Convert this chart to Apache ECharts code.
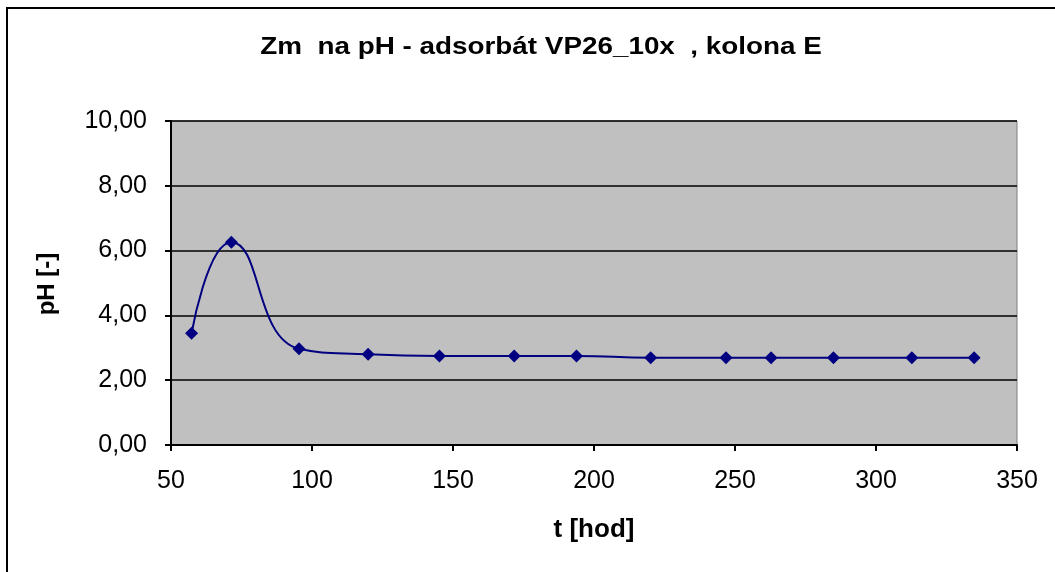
<!DOCTYPE html>
<html lang="cs">
<head>
    <meta charset="UTF-8">
    <title>Změna pH - adsorbát VP26_10x, kolona E</title>
    <style>
        html, body { margin: 0; padding: 0; background: #fff; }
        #main { width: 1055px; height: 572px; }
    </style>
</head>
<body>
<div id="main"></div>
<script src="https://cdn.jsdelivr.net/npm/echarts@6/dist/echarts.min.js"></script>
<script type="text/javascript">
    // data
    var hours = [57.3, 71.4, 95.4, 119.9, 145.2, 171.7, 193.8, 220.1, 246.8, 262.8, 284.9, 312.7, 334.8];
    var phValues = [3.45, 6.26, 2.97, 2.80, 2.75, 2.75, 2.75, 2.69, 2.69, 2.69, 2.69, 2.69, 2.69];
    var titleText = 'Zm  na pH - adsorbát VP26_10x  , kolona E';
    var xName = 't [hod]';
    var yName = 'pH [-]';

    var points = hours.map(function (h, i) {
        return [h, phValues[i]];
    });

    var font = 'Liberation Sans, Arial, sans-serif';
    var myChart = echarts.init(document.getElementById('main'));
    var option = {
        animation: false,
        backgroundColor: '#fff',
        graphic: [
            {
                // outer chart frame (only top/left visible)
                type: 'rect',
                shape: {x: 7, y: 8, width: 1200, height: 700},
                style: {fill: 'none', stroke: '#000', lineWidth: 2},
                silent: true
            },
            {
                // title, slightly stretched like the original
                type: 'text',
                x: 541, y: 47,
                scaleX: 1.16,
                style: {
                    text: titleText, fill: '#000', font: 'bold 24px ' + font,
                    align: 'center', verticalAlign: 'middle'
                }
            },
            {
                type: 'text',
                x: 47, y: 284,
                rotation: Math.PI / 2,
                style: {
                    text: yName, fill: '#000', font: 'bold 24px ' + font,
                    align: 'center', verticalAlign: 'middle'
                }
            },
            {
                type: 'text',
                x: 594, y: 530,
                style: {
                    text: xName, fill: '#000', font: 'bold 26px ' + font,
                    align: 'center', verticalAlign: 'middle'
                }
            }
        ],
        grid: {
            left: 171,
            right: 38,
            top: 121,
            bottom: 127,
            show: true,
            backgroundColor: '#c0c0c0',
            borderColor: '#808080',
            borderWidth: 1
        },
        xAxis: {
            type: 'value',
            min: 50,
            max: 350,
            interval: 50,
            axisLine: {show: true, onZero: false, lineStyle: {color: '#000', width: 2}},
            axisTick: {show: true, length: 6, lineStyle: {color: '#000', width: 2}},
            splitLine: {show: false},
            axisLabel: {
                color: '#000', fontFamily: font, fontSize: 25, margin: 24
            }
        },
        yAxis: {
            type: 'value',
            min: 0,
            max: 10,
            interval: 2,
            axisLine: {show: true, onZero: false, lineStyle: {color: '#000', width: 2}},
            axisTick: {show: true, length: 6, lineStyle: {color: '#000', width: 2}},
            splitLine: {show: true, lineStyle: {color: '#000', width: 1.5}},
            axisLabel: {
                color: '#000', fontFamily: font, fontSize: 25, margin: 24,
                formatter: function (v) {
                    return v.toFixed(2).replace('.', ',');
                }
            }
        },
        series: [
            {
                type: 'line',
                data: points,
                smooth: 0.5,
                symbol: 'diamond',
                symbolSize: 13,
                lineStyle: {color: '#000080', width: 2},
                itemStyle: {color: '#000080'}
            }
        ]
    };
    myChart.setOption(option);
</script>
</body>
</html>
